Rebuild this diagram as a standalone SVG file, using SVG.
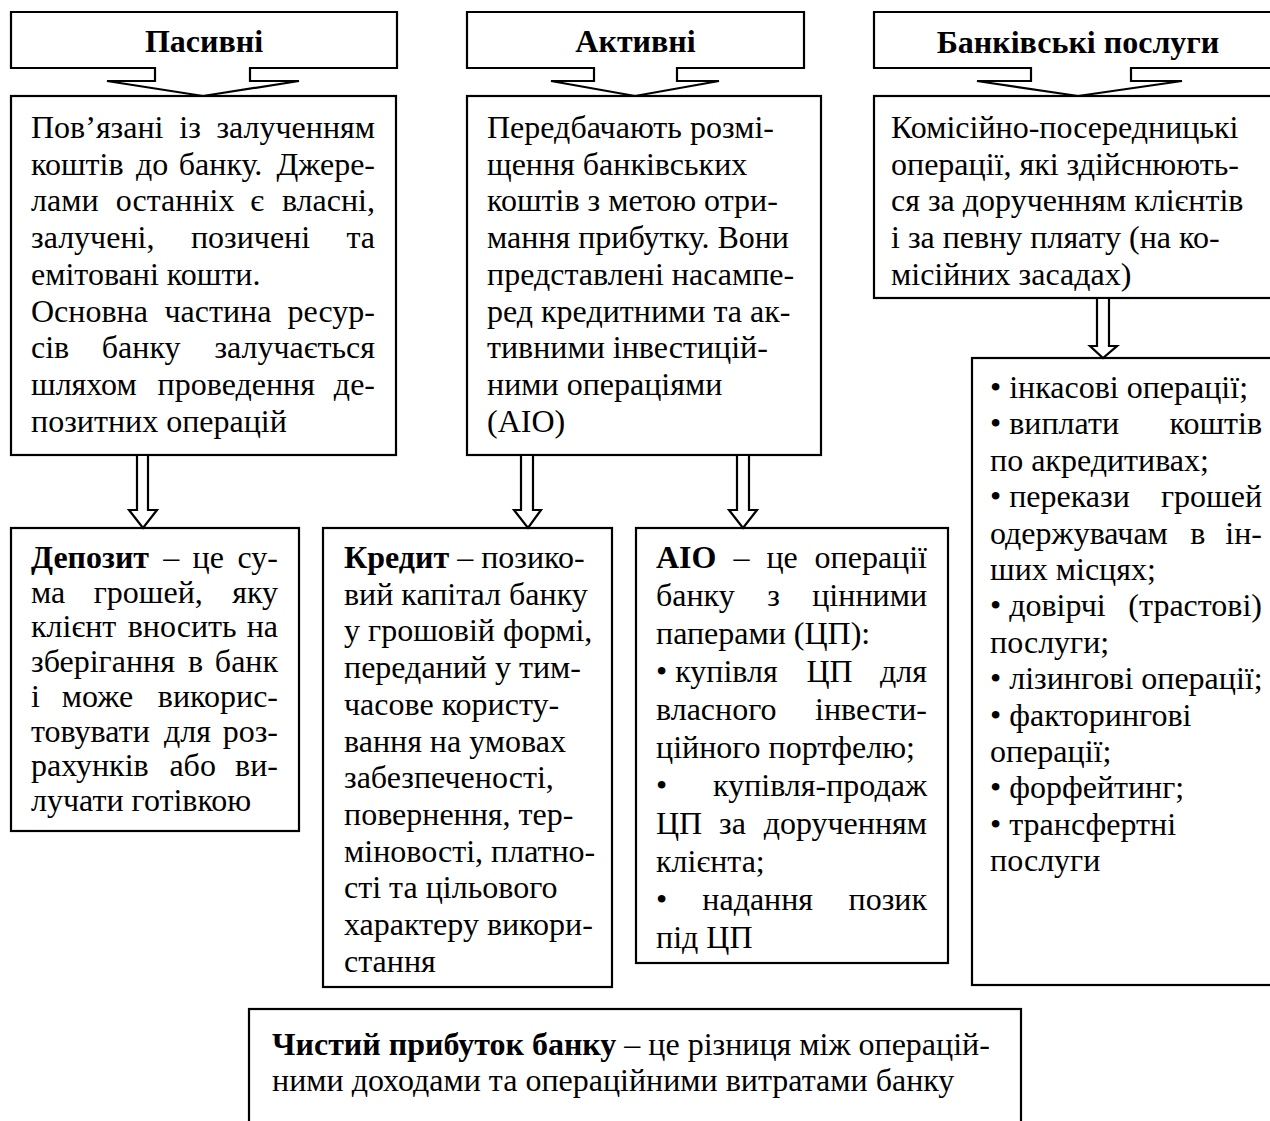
<svg xmlns="http://www.w3.org/2000/svg" width="1270" height="1121" viewBox="0 0 1270 1121">
<style>
.box{fill:#fff;stroke:#000;stroke-width:2.2}
.arr{fill:#fff;stroke:#000;stroke-width:2.2;stroke-linejoin:miter}
text{font-family:"Liberation Serif","Times New Roman",serif;font-size:32px;fill:#000}
.h{font-weight:bold;text-anchor:middle}
.b{font-weight:bold}
.e{text-anchor:end}
</style>
<rect width="1270" height="1121" fill="#fff"/>

<g id="hdr-pasyvni">
<polygon class="box" points="11,12 397,12 397,68 250,68 250,81 299,81 203,96 107,81 155,81 155,68 11,68"/>
<text class="h" x="204" y="52">Пасивні</text>
</g>
<g id="hdr-aktyvni">
<polygon class="box" points="467,12 804,12 804,68 677,68 677,81 719,81 635,96 551,81 594,81 594,68 467,68"/>
<text class="h" x="635.5" y="52">Активні</text>
</g>
<g id="hdr-poslugy">
<polygon class="box" points="874,12 1275,12 1275,68 1131,68 1131,81 1182,81 1078,96 977,81 1031,81 1031,68 874,68"/>
<text class="h" x="1078" y="53">Банківські послуги</text>
</g>

<g id="pasyvni">
<rect class="box" x="11" y="96" width="385" height="359"/>
<text x="31" y="138">Пов’язані<tspan x="179.3">із</tspan></text><text class="e" x="375" y="138">залученням</text>
<text x="31" y="174.7">коштів<tspan x="136">до</tspan><tspan x="178.8">банку.</tspan></text><text class="e" x="375" y="174.7">Джере-</text>
<text x="31" y="211.4">лами<tspan x="115.7">останніх</tspan><tspan x="250.3">є</tspan></text><text class="e" x="375" y="211.4">власні,</text>
<text x="31" y="248.1">залучені,<tspan x="190.9">позичені</tspan></text><text class="e" x="375" y="248.1">та</text>
<text x="31" y="284.8">емітовані кошти.</text>
<text x="31" y="321.5">Основна<tspan x="164.5">частина</tspan></text><text class="e" x="375" y="321.5">ресур-</text>
<text x="31" y="358.2">сів<tspan x="101.8">банку</tspan></text><text class="e" x="375" y="358.2">залучається</text>
<text x="31" y="394.9">шляхом<tspan x="157.6">проведення</tspan></text><text class="e" x="375" y="394.9">де-</text>
<text x="31" y="431.6">позитних операцій</text>
</g>

<g id="aktyvni">
<rect class="box" x="467" y="96" width="354" height="359"/>
<text x="487" y="138">Передбачають розмі-</text>
<text x="487" y="174.7">щення банківських</text>
<text x="487" y="211.4">коштів з метою отри-</text>
<text x="487" y="248.1">мання прибутку. Вони</text>
<text x="487" y="284.8">представлені насампе-</text>
<text x="487" y="321.5">ред кредитними та ак-</text>
<text x="487" y="358.2">тивними інвестицій-</text>
<text x="487" y="394.9">ними операціями</text>
<text x="487" y="431.6">(АІО)</text>
</g>

<g id="poslugy">
<rect class="box" x="874" y="96" width="401" height="202"/>
<text x="891" y="138">Комісійно-посередницькі</text>
<text x="891" y="174.7">операції, які здійснюють-</text>
<text x="891" y="211.4">ся за дорученням клієнтів</text>
<text x="891" y="248.1">і за певну пляату (на ко-</text>
<text x="891" y="284.8">місійних засадах)</text>
</g>

<g id="depozyt">
<rect class="box" x="11" y="528" width="288" height="303"/>
<text x="31" y="568"><tspan class="b">Депозит</tspan><tspan x="163.3">–</tspan><tspan x="192.5">це</tspan></text><text class="e" x="278" y="568">су-</text>
<text x="31" y="602.7">ма<tspan x="93.7">грошей,</tspan></text><text class="e" x="278" y="602.7">яку</text>
<text x="31" y="637.4">клієнт<tspan x="127.7">вносить</tspan></text><text class="e" x="278" y="637.4">на</text>
<text x="31" y="672.1">зберігання<tspan x="188">в</tspan></text><text class="e" x="278" y="672.1">банк</text>
<text x="31" y="706.8">і<tspan x="61.8">може</tspan></text><text class="e" x="278" y="706.8">викорис-</text>
<text x="31" y="741.5">товувати<tspan x="163.9">для</tspan></text><text class="e" x="278" y="741.5">роз-</text>
<text x="31" y="776.2">рахунків<tspan x="169.4">або</tspan></text><text class="e" x="278" y="776.2">ви-</text>
<text x="31" y="810.9">лучати готівкою</text>
</g>

<g id="kredyt">
<rect class="box" x="323" y="528" width="289" height="459"/>
<text x="344" y="568"><tspan class="b">Кредит</tspan> – позико-</text>
<text x="344" y="604.7">вий капітал банку</text>
<text x="344" y="641.4">у грошовій формі,</text>
<text x="344" y="678.1">переданий у тим-</text>
<text x="344" y="714.8">часове користу-</text>
<text x="344" y="751.5">вання на умовах</text>
<text x="344" y="788.2">забезпеченості,</text>
<text x="344" y="824.9">повернення, тер-</text>
<text x="344" y="861.6">міновості, платно-</text>
<text x="344" y="898.3">сті та цільового</text>
<text x="344" y="935">характеру викори-</text>
<text x="344" y="971.7">стання</text>
</g>

<g id="aio">
<rect class="box" x="636" y="528" width="312" height="435"/>
<text x="656" y="568"><tspan class="b">АІО</tspan><tspan x="733.4">–</tspan><tspan x="766.4">це</tspan></text><text class="e" x="927" y="568">операції</text>
<text x="656" y="606">банку<tspan x="767.3">з</tspan></text><text class="e" x="927" y="606">цінними</text>
<text x="656" y="644">паперами (ЦП):</text>
<text x="656" y="682">• купівля<tspan x="806.4">ЦП</tspan></text><text class="e" x="927" y="682">для</text>
<text x="656" y="720">власного</text><text class="e" x="927" y="720">інвести-</text>
<text x="656" y="758">ційного портфелю;</text>
<text x="656" y="796">•</text><text class="e" x="927" y="796">купівля-продаж</text>
<text x="656" y="834">ЦП<tspan x="719">за</tspan></text><text class="e" x="927" y="834">дорученням</text>
<text x="656" y="872">клієнта;</text>
<text x="656" y="910">•<tspan x="702.3">надання</tspan></text><text class="e" x="927" y="910">позик</text>
<text x="656" y="948">під ЦП</text>
</g>

<g id="poslugy-list">
<rect class="box" x="972" y="358" width="303" height="627"/>
<text x="990" y="398">• інкасові операції;</text>
<text x="990" y="434.4">• виплати</text><text class="e" x="1262" y="434.4">коштів</text>
<text x="990" y="470.8">по акредитивах;</text>
<text x="990" y="507.2">• перекази</text><text class="e" x="1262" y="507.2">грошей</text>
<text x="990" y="543.6">одержувачам<tspan x="1190.2">в</tspan></text><text class="e" x="1262" y="543.6">ін-</text>
<text x="990" y="580">ших місцях;</text>
<text x="990" y="616.4">• довірчі</text><text class="e" x="1262" y="616.4">(трастові)</text>
<text x="990" y="652.8">послуги;</text>
<text x="990" y="689.2">• лізингові операції;</text>
<text x="990" y="725.6">• факторингові</text>
<text x="990" y="762">операції;</text>
<text x="990" y="798.4">• форфейтинг;</text>
<text x="990" y="834.8">• трансфертні</text>
<text x="990" y="871.2">послуги</text>
</g>

<g id="prybutok">
<rect class="box" x="249" y="1009" width="772" height="130"/>
<text x="272" y="1055"><tspan class="b">Чистий прибуток банку</tspan> – це різниця між операцій-</text>
<text x="272" y="1091">ними доходами та операційними витратами банку</text>
</g>

<g id="connectors">
<polygon class="arr" points="137,455 148,455 148,510 157,510 143,528 129,510 137,510"/>
<polygon class="arr" points="521,455 533,455 533,510 541,510 528,528 514,510 521,510"/>
<polygon class="arr" points="737,455 749,455 749,510 757,510 743,528 729,510 737,510"/>
<polygon class="arr" points="1097,298 1109,298 1109,346 1117,346 1103,358 1090,346 1097,346"/>
</g>
</svg>
